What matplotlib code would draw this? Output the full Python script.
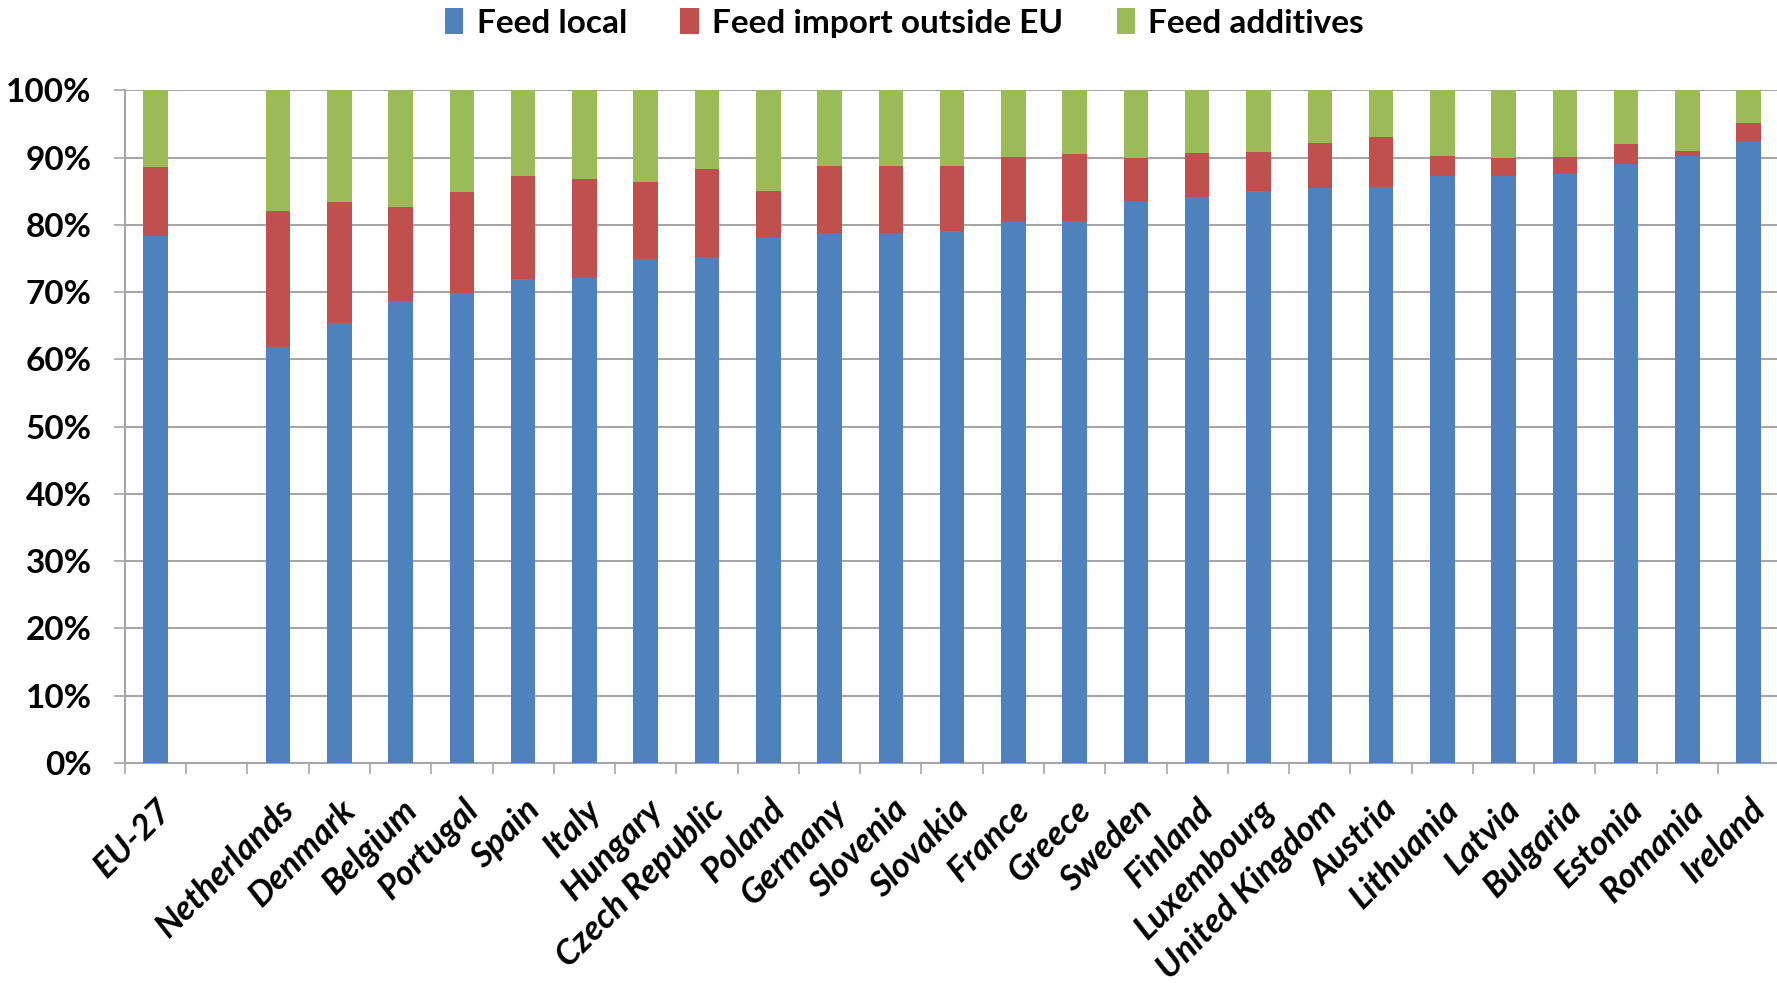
import matplotlib
matplotlib.use("Agg")
import matplotlib.pyplot as plt
from matplotlib.ticker import PercentFormatter, FixedLocator

# ---- DATA (shares in %) ----
countries = ["EU-27", "", "Netherlands", "Denmark", "Belgium", "Portugal", "Spain",
             "Italy", "Hungary", "Czech Republic", "Poland", "Germany", "Slovenia",
             "Slovakia", "France", "Greece", "Sweden", "Finland", "Luxembourg",
             "United Kingdom", "Austria", "Lithuania", "Latvia", "Bulgaria",
             "Estonia", "Romania", "Ireland"]

feed_local = [78.4, 0, 61.9, 65.4, 68.7, 69.9, 71.9, 72.1, 74.9, 75.2, 78.0, 78.8,
              78.8, 79.1, 80.4, 80.6, 83.6, 84.1, 85.1, 85.5, 85.6, 87.2, 87.2,
              87.6, 89.0, 90.3, 92.4]
feed_import = [10.2, 0, 20.2, 18.0, 14.0, 15.0, 15.3, 14.7, 11.5, 13.1, 7.1, 10.0,
               10.0, 9.7, 9.7, 9.9, 6.4, 6.6, 5.8, 6.7, 7.5, 3.1, 2.8, 2.5, 3.0,
               0.7, 2.8]
feed_additives = [11.4, 0, 17.9, 16.6, 17.3, 15.1, 12.8, 13.2, 13.6, 11.7, 14.9,
                  11.2, 11.2, 11.2, 9.9, 9.5, 10.0, 9.3, 9.1, 7.8, 6.9, 9.7, 10.0,
                  9.9, 8.0, 9.0, 4.8]

BLUE = "#4F81BD"
RED = "#C0504D"
GREEN = "#9BBB59"
GRID = "#A6A6A6"

plt.rcParams["font.family"] = ["Lato", "DejaVu Sans"]
plt.rcParams["font.weight"] = "bold"

# ---- PLOT ----
fig = plt.figure(figsize=(17.77, 9.83), dpi=100)
ax = fig.add_axes([0.0703, 0.224, 0.931, 0.684])

x = list(range(len(countries)))
bottom2 = [a + b for a, b in zip(feed_local, feed_import)]
w = 0.4
ax.bar(x, feed_local, width=w, color=BLUE, label="Feed local", zorder=3)
ax.bar(x, feed_import, width=w, bottom=feed_local, color=RED,
       label="Feed import outside EU", zorder=3)
ax.bar(x, feed_additives, width=w, bottom=bottom2, color=GREEN,
       label="Feed additives", zorder=3)

ax.set_xlim(-0.5, len(countries) - 0.5)
ax.set_ylim(0, 100)
ax.set_yticks(range(0, 101, 10))
ax.yaxis.set_major_formatter(PercentFormatter(100, decimals=0))
ax.grid(axis="y", color=GRID, linewidth=1.5, zorder=0)

ax.set_xticks(x)
ax.set_xticklabels(countries, rotation=45, ha="right", rotation_mode="anchor",
                   fontstyle="italic", fontsize=25, fontweight="bold")
ax.xaxis.set_minor_locator(FixedLocator([i - 0.5 for i in range(len(countries) + 1)]))
ax.tick_params(axis="x", which="major", length=0, pad=22)
ax.tick_params(axis="x", which="minor", length=8, width=1.2, color=GRID)
ax.tick_params(axis="y", length=8, width=1.2, color=GRID, labelsize=24, pad=16)

for s in ["top", "right"]:
    ax.spines[s].set_visible(False)
for s in ["left", "bottom"]:
    ax.spines[s].set_color(GRID)
    ax.spines[s].set_linewidth(1.5)

fig.legend(loc="center", bbox_to_anchor=(0.509, 0.977), ncol=3,
           frameon=False, fontsize=24, handlelength=0.55, handleheight=0.85,
           handletextpad=0.4, columnspacing=1.6)

plt.savefig("out.png", dpi=100)
